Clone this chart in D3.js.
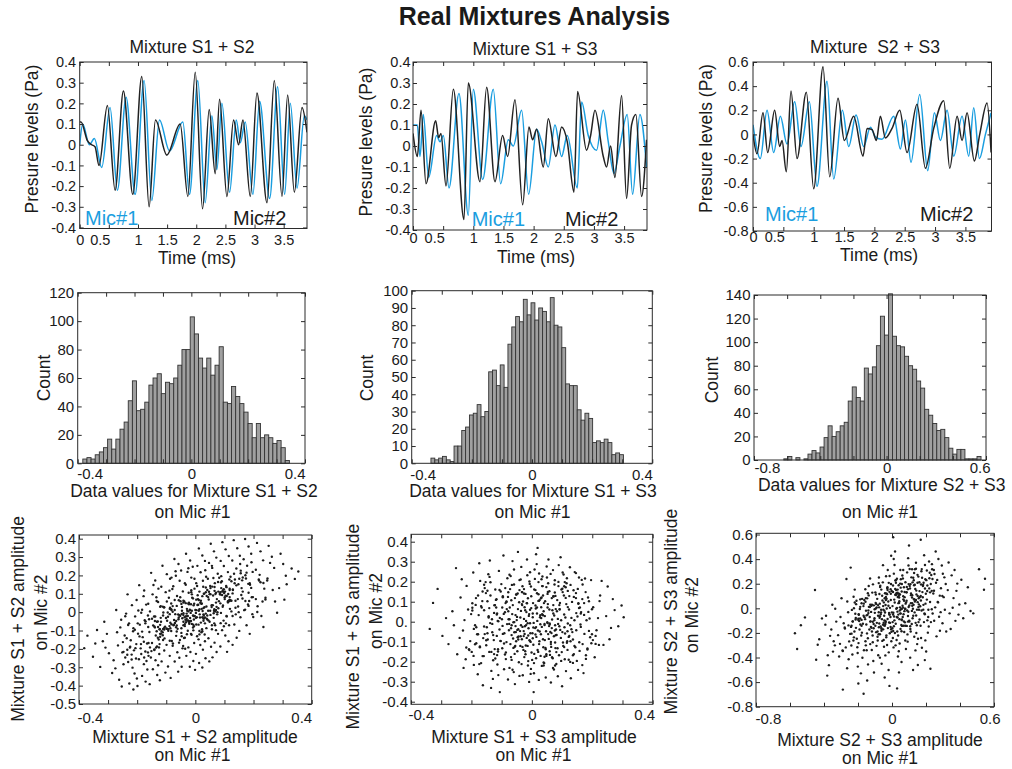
<!DOCTYPE html>
<html>
<head>
<meta charset="utf-8">
<script src="https://cdn.jsdelivr.net/npm/d3@7/dist/d3.min.js"></script>
<style>
html,body{margin:0;padding:0;background:#fff;}
</style>
</head>
<body>
<svg id="chart" width="1012" height="769"></svg>
<script>
// ======================= DATA =======================
const chartTitle = "Real Mixtures Analysis";
const waveTitles = ["Mixture S1 + S2", "Mixture S1 + S3", "Mixture  S2 + S3"];
const histXLabels = ["Data values for Mixture S1 + S2", "Data values for Mixture S1 + S3", "Data values for Mixture S2 + S3"];
const ampLabels = ["Mixture S1 + S2 amplitude", "Mixture S1 + S3 amplitude", "Mixture S2 + S3 amplitude"];
const micLabels = ["Mic#1", "Mic#2"];

const timeTicks = [0, 0.5, 1, 1.5, 2, 2.5, 3, 3.5];
const ticks04 = [-0.4, -0.3, -0.2, -0.1, 0, 0.1, 0.2, 0.3, 0.4];
const ticks0806 = [-0.8, -0.6, -0.4, -0.2, 0, 0.2, 0.4, 0.6];
const ticks0504 = [-0.5, -0.4, -0.3, -0.2, -0.1, 0, 0.1, 0.2, 0.3, 0.4];
const labels04 = [-0.4, 0, 0.4];
const labels0806 = [-0.8, 0, 0.6];
const countTicks120 = [0, 20, 40, 60, 80, 100, 120];
const countTicks100 = [0, 10, 20, 30, 40, 50, 60, 70, 80, 90, 100];
const countTicks140 = [0, 20, 40, 60, 80, 100, 120, 140];

// waveforms: [time (ms), pressure (Pa)]
const mic1_S1S2 = [[0,0],[0.052,0.10],[0.166,0.0],[0.252,0.03],[0.378,-0.11],[0.521,0.18],[0.647,-0.22],[0.796,0.23],[0.951,-0.24],[1.105,0.31],[1.237,-0.27],[1.369,0.12],[1.541,-0.03],[1.770,0.11],[1.884,-0.24],[2.027,0.31],[2.153,-0.28],[2.268,0.14],[2.354,-0.12],[2.440,0.20],[2.572,-0.23],[2.686,0.12],[2.755,0.01],[2.840,0.11],[2.972,-0.24],[3.087,0.21],[3.259,-0.26],[3.396,0.28],[3.516,-0.24],[3.614,0.20],[3.729,-0.21],[3.855,0.14],[3.900,0.12]];
const mic2_S1S2 = [[0,0.11],[0.023,0.11],[0.132,0.02],[0.206,0.0],[0.263,-0.01],[0.332,-0.10],[0.475,0.19],[0.607,-0.22],[0.750,0.26],[0.911,-0.24],[1.065,0.33],[1.191,-0.30],[1.300,0.12],[1.495,-0.05],[1.724,0.10],[1.856,-0.25],[1.982,0.35],[2.108,-0.31],[2.222,0.17],[2.325,-0.14],[2.400,0.22],[2.526,-0.25],[2.640,0.12],[2.726,0.0],[2.801,0.12],[2.927,-0.25],[3.041,0.25],[3.213,-0.28],[3.339,0.31],[3.471,-0.25],[3.568,0.24],[3.683,-0.23],[3.814,0.18],[3.900,0.06]];
const mic1_S1S3 = [[0,0.10],[0.072,0.10],[0.116,-0.05],[0.171,0.15],[0.260,-0.15],[0.392,0.05],[0.448,0.02],[0.503,0.05],[0.597,-0.20],[0.762,0.25],[0.917,-0.33],[1.000,0.27],[1.155,-0.16],[1.331,0.27],[1.453,-0.18],[1.580,0.03],[1.663,0.0],[1.801,0.17],[1.917,-0.23],[2.050,0.08],[2.133,0.02],[2.243,-0.10],[2.354,0.10],[2.464,-0.05],[2.558,0.05],[2.724,-0.20],[2.796,0.21],[2.906,0.05],[3.044,-0.02],[3.155,0.17],[3.238,0.02],[3.331,-0.13],[3.431,0.0],[3.552,0.15],[3.641,-0.23],[3.762,0.15],[3.873,-0.10]];
const mic2_S1S3 = [[0,0.06],[0.072,-0.05],[0.133,0.17],[0.215,-0.18],[0.376,0.12],[0.425,0.04],[0.464,0.06],[0.547,-0.19],[0.669,0.27],[0.845,-0.35],[0.917,0.30],[1.110,-0.17],[1.221,0.28],[1.359,-0.17],[1.486,0.05],[1.569,-0.05],[1.691,0.22],[1.818,-0.28],[1.923,0.09],[1.983,0.03],[2.050,0.08],[2.160,-0.10],[2.243,0.13],[2.370,-0.05],[2.464,0.09],[2.558,0.02],[2.669,-0.22],[2.729,0.26],[2.878,-0.02],[2.945,0.05],[3.017,0.17],[3.155,-0.05],[3.210,-0.10],[3.276,0.0],[3.348,-0.15],[3.459,0.24],[3.541,-0.25],[3.624,0.10],[3.696,0.15],[3.790,-0.24],[3.873,0.03]];
const mic1_S2S3 = [[0,0.08],[0.121,-0.20],[0.231,0.20],[0.341,-0.15],[0.451,0.15],[0.560,-0.08],[0.687,0.27],[0.791,-0.10],[0.929,0.27],[1.055,-0.43],[1.220,0.44],[1.330,-0.37],[1.473,0.20],[1.577,-0.10],[1.698,0.16],[1.824,-0.10],[1.934,0.06],[2.016,-0.02],[2.126,-0.04],[2.319,0.15],[2.429,-0.12],[2.511,0.12],[2.604,-0.23],[2.747,0.33],[2.879,-0.30],[2.989,0.18],[3.088,-0.05],[3.198,0.20],[3.308,-0.18],[3.445,0.15],[3.555,-0.18],[3.637,0.22],[3.731,-0.20],[3.830,0.0],[3.923,0.18]];
const mic2_S2S3 = [[0,0.0],[0.066,-0.16],[0.165,0.18],[0.242,-0.15],[0.357,0.20],[0.440,-0.10],[0.478,-0.05],[0.549,-0.31],[0.626,0.36],[0.725,-0.20],[0.879,0.35],[1.000,-0.45],[1.154,0.56],[1.264,-0.35],[1.401,0.30],[1.505,-0.05],[1.659,0.15],[1.813,-0.18],[1.879,0.05],[1.962,0.04],[2.033,-0.05],[2.099,0.15],[2.181,-0.03],[2.291,0.05],[2.418,0.20],[2.538,-0.15],[2.703,0.25],[2.841,-0.28],[2.978,0.05],[3.143,0.28],[3.242,-0.28],[3.363,0.15],[3.445,-0.05],[3.527,0.18],[3.648,-0.22],[3.736,0.0],[3.857,0.26],[3.923,-0.15]];

// histograms (counts per bin) and bin ranges (Pa) of Mic #1 data
const hist_S1S2 = [3,4,3,6,8,11,17,10,17,24,29,44,58,37,38,43,55,60,63,49,57,56,60,69,80,80,103,91,74,67,74,62,69,82,43,42,54,47,42,36,28,18,28,18,20,18,14,16,11,2];
const histRange_S1S2 = [-0.382, 0.345];
const hist_S1S3 = [3,2,3,4,2,1,10,10,19,21,28,29,34,27,30,53,54,45,57,44,69,79,85,82,95,86,93,83,90,88,82,96,80,79,67,46,45,45,31,25,29,26,12,13,12,14,12,5,6,5];
const histRange_S1S3 = [-0.336, 0.304];
const hist_S2S3 = [1,3,0,2,0,1,5,8,6,11,19,29,20,24,29,32,50,62,53,50,78,73,79,97,122,106,141,105,97,96,88,80,77,67,61,43,38,31,25,26,19,10,5,9,9,1,1,1,3];
const histRange_S2S3 = [-0.62, 0.57];

// scatter samples "mic1,mic2" in milli-Pa
const scatter_S1S2 = `-382,-196 -371,-128 -352,-243 -338,-97 -327,-298 -344,-171 -313,-52 -297,-224 -318,-158 -286,-331 -304,-118 -281,-262 -309,-193
-272,12 -258,-83 -266,-181 -247,-284 -262,-368 -243,-127 -251,-219 -275,-306 -255,-41 -249,-163 -241,-247 -269,-109 -253,-405
-233,97 -218,38 -207,-23 -228,-61 -214,-104 -236,-142 -203,-174 -225,-193 -211,-208 -219,-231 -204,-252 -231,-271 -216,-302 -209,-334 -201,-361 -227,-388 -213,-421 -238,-8 -206,-196 -222,-153 -234,-232 -202,66
-193,147 -178,87 -169,41 -186,-3 -174,-44 -162,-81 -197,-117 -181,-136 -166,-171 -188,-197 -172,-214 -161,-238 -194,-256 -177,-283 -165,-312 -183,-347 -171,-378 -199,-402 -163,-18 -186,-228 -191,-68 -168,-266 -176,118
-152,214 -138,172 -127,128 -147,97 -133,61 -121,29 -156,4 -142,-24 -129,-51 -145,-72 -123,-93 -158,-108 -136,-127 -126,-149 -149,-168 -132,-187 -141,-206 -124,-228 -153,-247 -137,-262 -128,-289 -146,-311 -131,-342 -122,-371 -157,-392 -139,-83 -125,-192 -134,81 -159,-39 -144,148 -121,-118
-113,253 -98,207 -87,182 -117,138 -102,109 -91,78 -83,47 -108,26 -95,-2 -119,-31 -86,-58 -104,-79 -93,-101 -112,-126 -81,-157 -99,-178 -107,-209 -88,-238 -116,-268 -94,-296 -103,-329 -85,-358 -111,-152 -97,-47 -89,117 -106,-143 -82,188
-72,289 -58,262 -49,227 -67,198 -54,171 -76,141 -43,113 -63,88 -51,59 -78,33 -46,8 -69,-11 -57,-29 -41,-52 -74,-68 -61,-91 -48,-113 -66,-129 -53,-152 -77,-171 -44,-197 -62,-218 -55,-248 -71,-269 -47,-297 -59,-324 -42,-184 -79,126 -64,-72 -52,81 -45,-33 -68,223 -56,-166 -73,-43 -41,52
-32,318 -18,281 -9,247 -27,219 -14,188 -36,157 -3,128 -23,106 -11,79 -38,58 -6,37 -29,18 -16,-4 -2,-21 -34,-42 -21,-63 -8,-84 -26,-101 -13,-123 -39,-141 -4,-168 -24,-192 -17,-217 -31,-238 -7,-266 -19,-297 -1,-314 -37,-28 -22,43 -12,97 -5,-77 -33,149 -15,-118 -28,8 -3,182 -35,-199 -24,239
12,347 24,308 33,279 7,252 18,217 37,193 3,158 27,138 14,112 39,88 9,71 22,48 31,27 4,11 36,-8 16,-29 28,-47 11,-68 38,-87 21,-109 6,-131 33,-158 17,-179 26,-204 2,-227 35,-251 13,-277 24,-301 19,62 29,-18 41,121 8,92 23,-93 34,228 38,31 11,-148 26,171 32,-122
53,372 64,331 72,297 47,268 58,241 77,209 43,182 67,158 52,131 79,112 61,91 46,69 71,52 56,28 44,8 75,-12 63,-31 49,-52 68,-71 57,-93 78,-118 45,-142 66,-166 54,-188 73,-217 59,-246 48,-268 69,99 62,186 74,71 51,143 79,21 65,-61 57,252
93,381 104,342 115,306 87,279 98,251 112,218 121,193 91,168 106,142 118,121 84,99 101,81 113,58 95,36 119,18 88,-4 108,-23 97,-46 116,-71 92,-98 103,-127 114,-158 86,-187 109,-216 99,104 117,178 122,63 89,131 105,-61
132,392 144,348 153,307 127,281 141,238 156,212 136,178 148,152 129,121 158,93 138,62 147,31 124,4 155,-28 134,-67 151,-102 142,-139 128,-178 159,131 133,209 146,71 154,262
171,398 183,357 192,318 166,288 178,253 197,219 174,183 188,149 163,112 194,81 181,42 168,11 199,-26 176,-71 187,-118 172,201 185,61 193,272
212,377 224,331 233,282 208,231 218,178 237,128 241,78 214,32 227,-21 234,-81 221,203 252,361 263,302 271,241 248,183 266,121 274,58 281,-3 257,268
293,318 302,262 311,198 288,131 306,68 314,152 331,238 342,181 354,221
102,112 95,113 86,109 71,106 52,98 24,87 3,68 -22,51 -46,28 -71,12 -88,-11 -101,-32 -118,-52 -121,-69 -128,-81 -122,-93 -111,-92 -98,-91 -86,-88 -66,-82 -41,-71 -21,-49 2,-31 28,-12 51,8 73,29 86,48 101,71 108,88 113,99
118,128 97,124 66,116 31,101 -8,75 -48,45 -83,16 -111,-18 -132,-52 -141,-78 -133,-104 -112,-110 -83,-103 -48,-88 -12,-64 28,-34 63,-6 94,29 117,66 128,102
182,154 161,173 124,168 88,162 36,134 -14,109 -57,65 -107,27 -138,-24 -172,-61 -183,-106 -192,-132 -177,-161 -161,-168 -123,-174 -88,-156 -36,-139 14,-103 57,-71 107,-21 138,24 172,61 183,106 192,132
-28,-46 -18,-32 -8,-18 2,-4 12,8 22,18 28,22 14,16 0,12 -12,8 -24,4 -30,-8 -32,-22 -30,-36 -25,-45 -15,-48 -5,-40 5,-28 15,-12 25,6`;
const scatterCore_S1S2 = `-213,-87 87,-60 -41,62 162,74 -128,55 19,-57 234,159 -176,-247 58,139 -93,-93 141,146 -7,-99 -241,-22 112,59 -64,34 196,-11 -149,-36 33,-61 78,164 -118,-117 224,163 -29,-120 151,182 -187,-174 6,142 -82,-66 129,123 -163,-219 47,111 208,71 -52,-20 98,-77 -231,-70 171,14 -14,119 -107,-95 66,137 183,34 -139,-48 24,-104 -198,-61 119,67 -71,66 41,-40 247,172 -156,-192 89,196 -36,-65 135,157 -219,-258
213,1 -87,24 41,-18 -162,46 128,-21 -19,13 -234,-205 176,215 -58,-39 93,114 -141,-203 7,39 241,69 -112,30 64,7 -196,9 149,0 -33,49 -78,-183 118,82 -224,-188 29,100 -151,-212 187,158 -6,-21 82,187 -129,-139 163,189 -47,-131 -208,-96 52,-15 -98,58 231,58 -171,-50 14,-121 107,136 -66,-48 -183,13 139,-12 -24,47 198,82 -119,33 71,-98 -41,-6 -247,-216 156,226 -89,-76 36,109 -135,-193 219,172
-107,-85 44,82 -21,-56 81,60 -64,-105 10,40 117,61 -88,18 29,-35 -47,-10 71,12 -4,46 -121,-134 56,38 -32,-55 98,124 -75,-71 17,51 39,-35 -59,-13 112,53 -15,43 76,0 -94,-25 3,-67 -41,-16 65,16 -82,12 24,-28 104,90 -26,-21 49,98 -116,-104 86,96 -7,-68 -54,-17 33,-29 92,93 -70,-59 12,66 -99,-89 60,38 -36,-76 21,45 124,62 -78,2 45,-45 -18,11 68,3 -110,-2`;

const scatter_S1S3 = `-338,-36 -327,94 -312,164 -296,-71 -284,18 -276,-112 -263,52 -251,268 -247,-163 -258,-18 -236,121 -228,-44 -219,-188 -211,61 -204,-97 -232,212 -223,8 -207,-142 -216,179 -239,-81 -201,38 -226,-231
-197,92 -188,-18 -172,-124 -163,151 -181,-63 -194,246 -176,33 -168,-207 -185,118 -199,-151 -161,-82 -179,-263 -171,204 -192,-36 -166,71 -184,-108 -174,292 -162,-318
-158,57 -149,-28 -137,131 -126,-92 -153,198 -141,-151 -132,12 -122,83 -156,-62 -144,237 -128,-193 -138,-7 -121,161 -151,-118 -134,-246 -147,102 -125,44 -159,-172 -139,306 -131,-53 -143,21 -123,-137 -152,143 -129,-286 -146,-89 -135,-331
-118,71 -107,-39 -96,127 -84,-102 -113,4 -101,188 -89,-164 -116,-71 -93,39 -82,-12 -109,254 -98,-133 -87,93 -114,-214 -103,151 -91,-58 -81,217 -111,-267 -99,12 -86,-187 -117,112 -104,-96 -94,331 -83,63 -112,-149 -97,-21 -88,168 -106,-352 -115,41 -92,-238
-78,52 -67,-18 -56,118 -44,-74 -72,163 -61,-131 -49,24 -76,-43 -63,83 -52,-98 -41,208 -69,-177 -58,-2 -47,141 -74,-231 -65,38 -53,-52 -42,97 -71,-112 -59,261 -48,-148 -77,12 -66,184 -54,-22 -43,-203 -73,71 -62,-84 -51,136 -79,-289 -68,107 -57,-161 -46,63 -75,-11 -64,303 -55,-121 -45,-38 -70,228 -60,-252 -50,8 -41,-271 -78,147 -67,-67 -56,-312 -46,349
-38,21 -27,-47 -16,92 -4,-101 -33,148 -21,-163 -9,38 -36,-18 -24,72 -12,-69 -2,127 -31,-126 -19,4 -7,189 -34,-212 -22,57 -11,-33 -1,-154 -29,101 -17,-81 -6,247 -39,-47 -26,163 -14,-8 -3,-236 -32,83 -20,-119 -10,29 -37,211 -25,-177 -13,117 -5,-58 -30,-268 -18,48 -8,-93 -35,274 -23,-23 -12,-197 -2,68 -28,-141 -15,232 -6,-8 -33,-88 -21,139 -9,-301 -38,-121 -26,14 -16,311 -4,-261 -31,177
3,41 14,-27 26,108 37,-88 8,161 19,-141 31,18 2,-58 12,81 24,-112 35,226 6,-6 17,142 29,-171 39,52 11,-32 22,198 33,-221 4,93 15,-76 27,22 38,-128 9,261 20,-44 32,121 1,-191 13,66 25,-98 36,178 7,-258 18,4 30,-63 40,93 10,214 21,-151 34,38 5,-115 16,288 28,-13 39,-204 12,158 23,-291 31,72 3,-83 14,337 26,-49 37,131 8,-161 19,369 33,-26 24,241 6,-352
43,28 54,-62 66,118 77,-104 48,173 59,-148 71,41 42,-17 53,88 64,-126 76,207 47,-48 58,152 69,-183 79,63 51,-3 62,239 73,-239 44,102 56,-86 67,11 78,-132 49,276 61,-51 72,126 41,-207 52,71 63,-112 75,186 46,-279 57,-22 68,57 79,-68 50,221 60,-166 74,31 45,-131 55,311 66,-32 77,-219 52,139 63,-304 71,83 43,-92 54,192 65,-57 76,146 48,-171 59,-9 70,258
83,52 94,-41 106,131 117,-98 88,178 99,-152 111,21 82,-66 93,94 104,-121 116,217 87,-11 98,161 109,-188 119,73 91,-23 102,246 113,-247 84,108 96,-81 107,36 118,-141 89,283 101,-52 112,119 81,-211 92,63 103,-104 115,192 86,-273 97,7 108,-28 119,154 90,-168 100,-323 114,88 85,-133 95,322 110,-59 105,236
123,61 134,-52 146,118 157,-103 128,184 139,-162 151,26 122,-76 133,99 144,-128 156,221 127,-18 138,157 149,-196 159,71 131,-38 142,248 153,-241 124,128 136,-89 147,43 158,-146 129,-283 141,7 152,164 126,272
163,48 174,-61 186,121 197,-108 168,186 179,-168 191,16 162,-26 173,93 184,-134 196,208 167,-217 178,148 189,-46 199,62 171,-257 203,72 214,-43 226,131 237,-116 208,-178 219,18 231,204 211,-71 224,103 246,28 257,-88 268,113 251,176 262,-31 274,58 286,-23 297,81 304,22`;
const scatterCore_S1S3 = `-143,27 81,-152 -17,93 162,41 -96,-61 34,178 -188,-113 119,-9 -52,136 7,-207 -124,82 193,-78 -31,-26 58,61 -163,-172 102,148 -74,12 141,-121 -8,201 -197,56 76,-44 -112,-138 23,104 179,-186 -45,-89 131,19 -156,168 48,-163 -89,47 12,-64 167,113 -131,-11 91,83 -22,-148 -178,131 63,-101 -59,186 147,-43 -103,-97 28,32 -147,-58 112,172 -36,54 184,-139 -67,-191 42,-11 -119,109 156,68 -14,-121 -184,-28 71,127 -86,-154 124,-71 3,22 -137,197 97,-196 -48,-41 173,34 -172,-128 53,149 -98,71 136,-168 -27,-72 189,102 -61,-3 17,71 -151,-93 107,-127 -41,158 161,-14 -116,36 39,-219 -79,124 146,143 -6,-96 -193,-171 86,14 -128,-67 32,212 -164,103 118,-48 -57,-126 199,-63 -33,88 67,-178 -107,159 154,92 -19,-17 -174,-212 92,61 -92,-109 22,137 128,-98 -141,68 -69,-33 73,-73 -3,176 -121,-184 181,7 -84,101 46,-138 -158,-24 109,198 -24,-61 168,-112 -111,2 14,-183 -54,33 139,124 -186,84 77,-18
-192,-216 78,129 -37,-73 146,243 -115,-167 17,41 211,-111 -158,185 52,-7 -84,99 127,-201 -6,60 -217,-129 101,165 -58,-53 176,216 -134,-151 30,117 70,-231 -106,19 202,-92 -26,141 136,-206 -168,78 5,-29 -74,235 116,-105 -147,155 42,-175 187,49 -47,-78 88,199 -208,-138 154,90 -13,-219 -96,122 59,-14 165,209 -125,-162 22,104 -178,-63 107,177 -64,-240 37,32 222,-116 -140,224 80,-39 -32,148 122,-190 -197,70`;

const scatter_S2S3 = `-571,-203 -558,-331 -512,-74 -536,-138 -453,149 -446,-418 -428,-251 -412,-82 -437,-296 -392,-133 -378,-382 -364,-224 -351,29 -336,-301 -388,-61 -371,-462 -357,-172 -343,-268 -328,-108 -381,-547 -347,-352 -334,-4
-317,-218 -303,-71 -291,-342 -278,-156 -264,-487 -252,-269 -311,-392 -297,82 -284,-121 -272,-318 -258,-32 -246,-208 -306,-289 -289,-661 -268,238 -255,-414 -243,331
-238,-141 -227,-262 -216,-44 -204,-317 -193,-103 -181,-221 -168,18 -233,-376 -221,-188 -209,61 -197,-283 -186,-131 -174,-402 -162,-72 -236,-13 -224,-236 -212,-159 -201,-474 -189,-6 -177,-198 -165,-341 -231,-107 -219,152 -207,-247 -195,-52 -183,-529 -171,-126 -239,-302 -226,94 -214,-91 -202,-363 -191,-172 -179,41 -167,-695 -198,-611
-158,-88 -147,-204 -136,12 -124,-151 -113,-276 -101,-37 -89,-118 -154,83 -142,-243 -131,-71 -119,-339 -108,-162 -96,43 -85,-231 -151,-131 -139,-18 -128,-291 -116,128 -104,-97 -93,-194 -81,-382 -156,-268 -144,-53 -133,-172 -121,21 -110,-428 -98,-142 -87,77 -149,-341 -137,181 -126,-106 -114,-221 -102,-8 -91,-305 -82,-61 -153,-19 -141,-456 -129,243 -118,-189 -106,-522 -95,112 -84,-262 -146,-587 -123,-29
-78,-32 -67,-148 -56,63 -44,-98 -33,-221 -21,21 -9,-71 -74,117 -62,-182 -51,-11 -39,-127 -27,172 -16,-49 -4,-268 -72,38 -59,-88 -47,-312 -36,92 -24,-161 -12,4 -2,141 -79,-211 -66,-48 -54,211 -42,-141 -31,-2 -19,-358 -7,68 -75,-123 -63,152 -49,-257 -38,27 -26,-87 -14,263 -3,-191 -71,-401 -58,102 -46,-61 -34,-236 -22,56 -11,-118 -77,251 -64,-12 -52,-171 -41,123 -29,-298 -17,-38 -6,198 -73,-77 -61,-451 -48,48 -37,-111 -25,312 -13,-203 -1,-33 -69,183 -57,-265 -45,-19 -32,78 -20,-502 -8,-152 -76,8 -53,351 -39,-383 -28,163 -15,-631 -5,428 -43,-562
3,18 14,-98 26,122 37,-51 48,201 59,-143 71,62 8,-36 19,158 31,-189 42,88 53,-8 64,243 76,-114 5,-241 16,47 28,-71 39,187 50,-168 62,21 73,-23 11,282 22,-126 34,92 45,-286 57,137 68,-48 79,212 2,-162 13,71 25,-3 36,-221 47,112 58,-91 70,171 9,-318 20,226 32,-27 43,57 55,-136 66,311 77,-6 6,133 17,-201 29,3 40,-349 51,168 63,-71 74,91 4,-112 15,352 27,-258 38,42 49,-41 61,267 72,-193 12,-67 23,108 35,-392 46,-18 58,198 69,-142 80,38 10,401 21,-301 33,152 44,-88 56,-437 67,73 18,462 41,-521 52,236 78,-262 7,578 30,-651
83,48 94,-62 106,162 117,-21 128,228 139,-118 151,101 87,-143 98,11 109,197 121,-81 132,72 143,-201 155,258 85,131 96,-28 108,-168 119,41 130,187 142,-58 153,-247 89,292 101,-101 112,121 123,-3 135,318 146,-138 157,82 91,-212 102,23 114,252 125,-61 137,158 148,-291 159,-12 86,61 97,348 110,-188 121,211 133,-33 144,113 156,-112 92,-271 104,181 116,-128 127,28 138,-342 150,272 82,-331 95,408 107,-401 118,88 131,-231 141,371 152,-461 100,511 124,-501 147,-11
163,91 174,-18 186,208 197,38 208,-98 219,162 231,271 168,-142 179,132 191,-41 202,229 213,-71 224,51 236,318 166,17 177,248 188,-112 199,118 211,-198 222,289 234,-8 171,-241 182,181 194,352 205,71 216,-148 228,198 239,-42 173,302 184,-11 196,-261 207,141 218,381 229,-112 161,212 176,-321 189,432 201,-351 214,-12 226,-491 238,238 169,558 193,-421
243,121 254,8 266,231 277,-68 288,163 299,281 311,-12 248,-101 259,208 271,48 282,-182 293,348 304,91 316,198 246,312 262,-228 273,401 286,-31 297,-121 308,252 319,-188 257,462
328,148 339,-41 351,268 362,83 373,-102 384,201 396,31 333,372 345,-168 357,5 368,312 379,142 391,-51 408,232 419,-81 431,41 446,171 462,-22 478,-41 512,318 541,151 547,241`;
const scatterCore_S2S3 = `-256,-139 104,320 -49,-117 194,161 -154,-301 23,228 281,103 -211,34 70,-106 -112,195 169,101 -8,156 -289,-347 134,192 -77,-154 235,359 -179,-142 40,102 94,-108 -142,123 269,52 -35,261 181,90 -224,1 7,-184 -98,130 155,10 -196,-48 56,-187 250,279 -62,-161 118,318 -277,-165 205,308 -17,-115 -128,29 79,-142 220,244 -167,-60 29,240 -238,-206 143,144 -85,-189 49,312 296,101 -187,73 107,-146 -43,82 162,-91 -263,56
170,63 -70,173 33,-75 -130,10 102,-107 -15,134 -187,-83 141,322 -46,-139 74,133 -113,-109 6,186 193,-48 -90,7 51,-43 -157,155 119,20 -26,149 -62,-167 94,156 -179,-94 23,207 -121,-158 150,208 -5,-170 66,99 -103,-81 130,287 -38,-104 -166,38 42,44 -78,205 185,28 -137,105 11,-146 86,130 -53,-133 -146,81 111,42 -19,207 158,32 -95,-2 57,-96 -33,121 -198,-95 125,249 -71,-211 29,119 -108,-128 175,319
-213,-78 87,173 -41,-34 162,140 -128,-108 19,110 234,142 -176,77 58,-3 -93,35 141,68 -7,119 -241,-151 112,107 -64,-33 196,236 -149,-57 33,127 78,-3 -118,30 224,130 -29,115 151,50 -187,12 6,-51 -82,26 129,74 -163,68 47,8 208,185 -52,18 98,197 -231,-106 171,194 -14,-52 -107,24 66,6 183,190 -139,-39 24,149 -198,-84 119,107 -71,-64 41,118 247,143 -156,53 89,-18 -36,67 135,55 -219,47`;

// ======================= LAYOUT / STYLE =======================
const FONT = "'Liberation Sans', Arial, Helvetica, sans-serif";
const BLUE = "#1a9ee0";
const DARK = "#1a1a1a";

const svg = d3.select("#chart");
svg.append("rect").attr("width", 1012).attr("height", 769).attr("fill", "#fff");
const defs = svg.append("defs");

function parsePts(s) {
  return s.trim().split(/\s+/).map(t => { const p = t.split(","); return [+p[0] / 1000, +p[1] / 1000]; });
}
function lab(v, zero) { return v === 0 ? zero : String(v); }

function drawAxes(g, f, x, y, o) {
  const style = sel => {
    sel.attr("font-family", FONT).attr("font-size", o.fs).attr("color", "#2b2b2b");
    sel.select(".domain").remove();
    sel.selectAll(".tick text").attr("fill", DARK);
  };
  const xf = d => (o.xLabels.indexOf(d) >= 0 ? lab(d, "0") : "");
  const yf = d => lab(d, o.zero || "0");
  const bx = g.append("g").attr("transform", `translate(0,${f.y1})`)
    .call(d3.axisBottom(x).tickValues(o.xTicks).tickSize(-4).tickPadding(o.xPad).tickFormat(xf)).call(style);
  g.append("g").attr("transform", `translate(0,${f.y0})`)
    .call(d3.axisTop(x).tickValues(o.xTicks).tickSize(-4).tickFormat(() => "")).call(style);
  g.append("g").attr("transform", `translate(${f.x0},0)`)
    .call(d3.axisLeft(y).tickValues(o.yTicks).tickSize(-4).tickPadding(o.yPad).tickFormat(yf)).call(style);
  g.append("g").attr("transform", `translate(${f.x1},0)`)
    .call(d3.axisRight(y).tickValues(o.yTicks).tickSize(-4).tickFormat(() => "")).call(style);
  if (o.xAdj) {
    bx.selectAll(".tick text").each(function (d) {
      const a = o.xAdj[String(d)];
      if (a) d3.select(this).attr("text-anchor", a[0]).attr("dx", a[1]);
    });
  }
}
function frame(g, f) {
  g.append("rect").attr("x", f.x0).attr("y", f.y0).attr("width", f.x1 - f.x0).attr("height", f.y1 - f.y0)
    .attr("fill", "none").attr("stroke", "#2b2b2b").attr("stroke-width", 1);
}
function text(str, x, y, size, opts = {}) {
  const t = svg.append("text").attr("font-family", FONT).attr("font-size", size).attr("fill", opts.fill || DARK)
    .attr("text-anchor", opts.anchor || "middle").style("white-space", "pre").text(str);
  if (opts.rotate) t.attr("transform", `translate(${x},${y}) rotate(-90)`);
  else t.attr("x", x).attr("y", y);
  if (opts.bold) t.attr("font-weight", "bold");
  return t;
}

// ---------- title ----------
text(chartTitle, 534.5, 25, 25, { bold: true });

// ---------- row 1: waveforms ----------
const waveFrames = [
  { x0: 79.7, x1: 307, y0: 62, y1: 228.5 },
  { x0: 413, x1: 647, y0: 62, y1: 230 },
  { x0: 753, x1: 991.5, y0: 62, y1: 231 }
];
const waveSeries = [[mic1_S1S2, mic2_S1S2], [mic1_S1S3, mic2_S1S3], [mic1_S2S3, mic2_S2S3]];
const timeDomains = [[0, 3.9], [0, 3.88], [0, 3.93]];
const waveYDomains = [[-0.405, 0.4], [-0.4, 0.4], [-0.8, 0.6]];
const waveYTicks = [ticks04, ticks04, ticks0806];
const waveXPad = [6, 3, 1];
const waveYPad = [3.5, 2.5, 4.5];
const waveTitlePos = [[192, 53], [535, 55], [875, 53]];
const waveYLabPos = [[38, 139], [372, 142], [712, 138.5]];
const timeLabPos = [[197, 264], [536, 263], [879, 261]];
const mic1Pos = [[85, 224.5], [471.7, 226], [765, 221]];
const mic2Pos = [[233, 224.5], [565, 226], [920, 221]];

waveFrames.forEach((f, i) => {
  const g = svg.append("g");
  const x = d3.scaleLinear().domain(timeDomains[i]).range([f.x0, f.x1]);
  const y = d3.scaleLinear().domain(waveYDomains[i]).range([f.y1, f.y0]);
  const cid = "clipw" + i;
  defs.append("clipPath").attr("id", cid).append("rect")
    .attr("x", f.x0).attr("y", f.y0).attr("width", f.x1 - f.x0).attr("height", f.y1 - f.y0);
  const line = d3.line().x(d => x(d[0])).y(d => y(d[1])).curve(d3.curveMonotoneX);
  const lg = g.append("g").attr("clip-path", `url(#${cid})`);
  lg.append("path").datum(waveSeries[i][0]).attr("d", line).attr("fill", "none").attr("stroke", BLUE).attr("stroke-width", 1.5);
  lg.append("path").datum(waveSeries[i][1]).attr("d", line).attr("fill", "none").attr("stroke", "#222").attr("stroke-width", 1.5);
  drawAxes(g, f, x, y, { xTicks: timeTicks, xLabels: timeTicks, yTicks: waveYTicks[i], fs: 14.5, xPad: waveXPad[i], yPad: waveYPad[i], xAdj: { "0.5": ["middle", -9] } });
  frame(g, f);
  text(waveTitles[i], waveTitlePos[i][0], waveTitlePos[i][1], 17.5);
  text("Presure levels (Pa)", waveYLabPos[i][0], waveYLabPos[i][1], 17.5, { rotate: true });
  text("Time (ms)", timeLabPos[i][0], timeLabPos[i][1], 17.5);
  text(micLabels[0], mic1Pos[i][0], mic1Pos[i][1], 20, { anchor: "start", fill: BLUE });
  text(micLabels[1], mic2Pos[i][0], mic2Pos[i][1], 20, { anchor: "start" });
});

// ---------- row 2: histograms ----------
const histFrames = [
  { x0: 77.7, x1: 305, y0: 292.7, y1: 463.3 },
  { x0: 411.7, x1: 652.3, y0: 290.7, y1: 463.3 },
  { x0: 754, x1: 986, y0: 295, y1: 460 }
];
const histCounts = [hist_S1S2, hist_S1S3, hist_S2S3];
const histRanges = [histRange_S1S2, histRange_S1S3, histRange_S2S3];
const histXDomains = [[-0.4, 0.4], [-0.4, 0.4], [-0.8, 0.6]];
const histYDomains = [[0, 120], [0, 100], [0, 140]];
const histXTicks = [ticks04, ticks04, ticks0806];
const histXLabs = [labels04, labels04, labels0806];
const histYTicks = [countTicks120, countTicks100, countTicks140];
const histXPad = [5, 6, 2.5];
const histXAdj = [{ "-0.4": ["start", -1], "0.4": ["end", 0] }, { "-0.4": ["start", -2], "0.4": ["end", 0] }, { "-0.8": ["start", 0], "0.6": ["end", 4] }];
const countPos = [[50, 378], [373, 378], [718, 380]];
const histLabPos = [[194, 497], [533, 497], [881.7, 491]];
const onMicPos = [[192.5, 518], [532.5, 518], [880, 518]];

histFrames.forEach((f, i) => {
  const g = svg.append("g");
  const x = d3.scaleLinear().domain(histXDomains[i]).range([f.x0, f.x1]);
  const y = d3.scaleLinear().domain(histYDomains[i]).range([f.y1, f.y0]);
  const [lo, hi] = histRanges[i];
  const n = histCounts[i].length, w = (hi - lo) / n;
  g.append("g").selectAll("rect").data(histCounts[i]).join("rect")
    .attr("x", (d, k) => x(lo + k * w))
    .attr("width", (d, k) => x(lo + (k + 1) * w) - x(lo + k * w))
    .attr("y", d => y(d))
    .attr("height", d => y(0) - y(d))
    .attr("fill", "#a0a0a0").attr("stroke", "#333").attr("stroke-width", 0.9);
  drawAxes(g, f, x, y, { xTicks: histXTicks[i], xLabels: histXLabs[i], yTicks: histYTicks[i], fs: 15, xPad: histXPad[i], yPad: 3.5, xAdj: histXAdj[i] });
  frame(g, f);
  text("Count", countPos[i][0], countPos[i][1], 17.5, { rotate: true });
  text(histXLabels[i], histLabPos[i][0], histLabPos[i][1], 17.5);
  text("on Mic #1", onMicPos[i][0], onMicPos[i][1], 17.5);
});

// ---------- row 3: scatter plots ----------
const scatFrames = [
  { x0: 79, x1: 311.7, y0: 535, y1: 704 },
  { x0: 411, x1: 652.7, y0: 534.3, y1: 704.3 },
  { x0: 756, x1: 994, y0: 533.3, y1: 706.7 }
];
const scatData = [
  parsePts(scatter_S1S2).concat(parsePts(scatterCore_S1S2)),
  parsePts(scatter_S1S3).concat(parsePts(scatterCore_S1S3)),
  parsePts(scatter_S2S3).concat(parsePts(scatterCore_S2S3))
];
const scatXDomains = [[-0.4, 0.4], [-0.4, 0.4], [-0.8, 0.6]];
const scatYDomains = [[-0.5, 0.42], [-0.413, 0.437], [-0.8, 0.61]];
const scatXTicks = [ticks04, ticks04, ticks0806];
const scatXLabs = [labels04, labels04, labels0806];
const scatYTicks = [ticks0504, ticks04, ticks0806];
const scatZero = ["0", "0.", "0."];
const scatXPad = [8, 5, 6.5];
const scatXAdj = [{ "-0.4": ["start", -2], "0.4": ["end", 0] }, { "-0.4": ["start", -3], "0.4": ["end", 2] }, { "-0.8": ["start", -1], "0.6": ["end", 6] }];
const scatY1Pos = [[24, 619], [359, 626.7], [677, 611.7]];
const scatY2Pos = [[46.5, 612.5], [381.5, 611], [697.5, 615]];
const scatX1Pos = [[195, 743], [534, 743], [880, 746]];
const scatX2Pos = [[192.5, 761], [533.5, 761], [880, 764]];

scatFrames.forEach((f, i) => {
  const g = svg.append("g");
  const x = d3.scaleLinear().domain(scatXDomains[i]).range([f.x0, f.x1]);
  const y = d3.scaleLinear().domain(scatYDomains[i]).range([f.y1, f.y0]);
  g.append("g").selectAll("circle").data(scatData[i]).join("circle")
    .attr("cx", d => x(d[0])).attr("cy", d => y(d[1])).attr("r", 1.2).attr("fill", "#1c1c1c");
  drawAxes(g, f, x, y, { xTicks: scatXTicks[i], xLabels: scatXLabs[i], yTicks: scatYTicks[i], fs: 15, xPad: scatXPad[i], yPad: 3, zero: scatZero[i], xAdj: scatXAdj[i] });
  frame(g, f);
  text(ampLabels[i], scatY1Pos[i][0], scatY1Pos[i][1], 17.5, { rotate: true });
  text("on Mic #2", scatY2Pos[i][0], scatY2Pos[i][1], 17.5, { rotate: true });
  text(ampLabels[i], scatX1Pos[i][0], scatX1Pos[i][1], 17.5);
  text("on Mic #1", scatX2Pos[i][0], scatX2Pos[i][1], 17.5);
});
</script>
</body>
</html>
